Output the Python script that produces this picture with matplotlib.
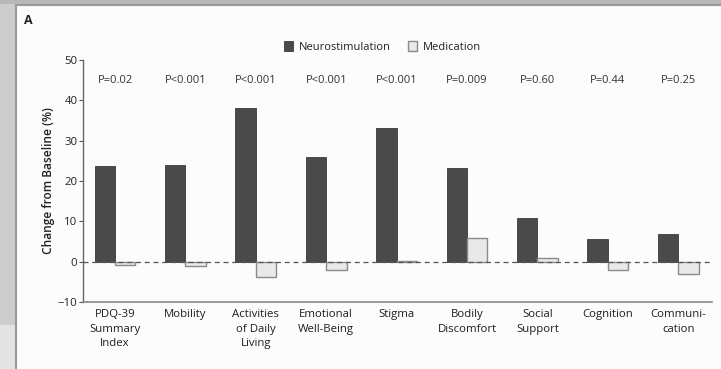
import matplotlib
matplotlib.use("Agg")
import matplotlib.pyplot as plt
from matplotlib.patches import Rectangle
import numpy as np

categories = ["PDQ-39\nSummary\nIndex", "Mobility", "Activities\nof Daily\nLiving",
              "Emotional\nWell-Being", "Stigma", "Bodily\nDiscomfort", "Social\nSupport",
              "Cognition", "Communi-\ncation"]
neuro = [23.8, 24.0, 38.0, 26.0, 33.2, 23.2, 10.9, 5.6, 6.9]
medic = [-0.8, -1.0, -3.9, -2.1, 0.2, 5.9, 1.0, -2.1, -3.0]
pvals = ["P=0.02", "P<0.001", "P<0.001", "P<0.001", "P<0.001", "P=0.009", "P=0.60", "P=0.44", "P=0.25"]
yticks = [-10, 0, 10, 20, 30, 40, 50]

plt.rcParams['font.family'] = ['Open Sans', 'DejaVu Sans']

W, H = 721, 369
fig = plt.figure(figsize=(W/100, H/100), dpi=100)
fig.patch.set_facecolor('#cdcdcd')

def fr(x0, y0, x1, y1, **kw):
    fig.patches.append(Rectangle((x0/W, 1-y1/H), (x1-x0)/W, (y1-y0)/H,
                                 transform=fig.transFigure, zorder=-10, **kw))

fr(0, 325, 16, 369, facecolor='#e4e4e4', edgecolor='none')
fr(0, 0, 721, 4, facecolor='#b8b8b8', edgecolor='none')
fr(16, 5, 725, 375, facecolor='#fcfcfc', edgecolor='#9a9a9a', linewidth=1.5)

ax = fig.add_axes([83/W, 1-302/H, (712-83)/W, (302-60)/H])
ax.set_facecolor('none')
x = np.arange(len(categories))
bw = 0.29
ax.bar(x - bw/2, neuro, width=bw, color='#4a4a4a', edgecolor='#3a3a3a', linewidth=0.6,
       label='Neurostimulation', zorder=3)
ax.bar(x + bw/2, medic, width=bw, color='#e9e9e9', edgecolor='#8a8a8a', linewidth=1.0,
       label='Medication', zorder=3)
ax.axhline(0, color='#555555', linestyle=(0, (4, 3)), linewidth=0.9, zorder=4)

ax.set_xlim(-0.455, 8.48)
ax.set_ylim(-10, 50)
ax.set_yticks(yticks)
ax.set_yticklabels([("\u2212" + str(-t)) if t < 0 else str(t) for t in yticks],
                   fontsize=8.2, color='#222222')
ax.set_xticks(x)
ax.set_xticklabels(categories, fontsize=8.2, color='#1e1e1e', linespacing=1.45,
                   fontweight='medium')
ax.tick_params(axis='x', length=0, pad=5)
ax.tick_params(axis='y', length=3, width=0.8, color='#555555', pad=1)
for s in ['top', 'right']:
    ax.spines[s].set_visible(False)
ax.spines['left'].set_color('#666666')
ax.spines['bottom'].set_color('#888888')
ax.spines['left'].set_linewidth(1.0)
ax.spines['bottom'].set_linewidth(1.2)

ax.set_ylabel("Change from Baseline (%)", fontsize=8.6, color='#222222', fontweight='semibold', labelpad=2)

for i, p in enumerate(pvals):
    ax.text(x[i], 45, p, ha='center', va='center', fontsize=8, color='#333333')

leg = ax.legend(loc='upper center', bbox_to_anchor=(0.476, 1.118), ncol=2, frameon=False,
                fontsize=8, handlelength=0.8, handleheight=0.9, columnspacing=1.6,
                handletextpad=0.5)
for t in leg.get_texts():
    t.set_color('#222222')

fig.text(24/W, 1-20/H, "A", fontsize=9, fontweight='bold', color='#222222', va='center', ha='left')

fig.savefig("out.png", dpi=100, facecolor=fig.get_facecolor())
